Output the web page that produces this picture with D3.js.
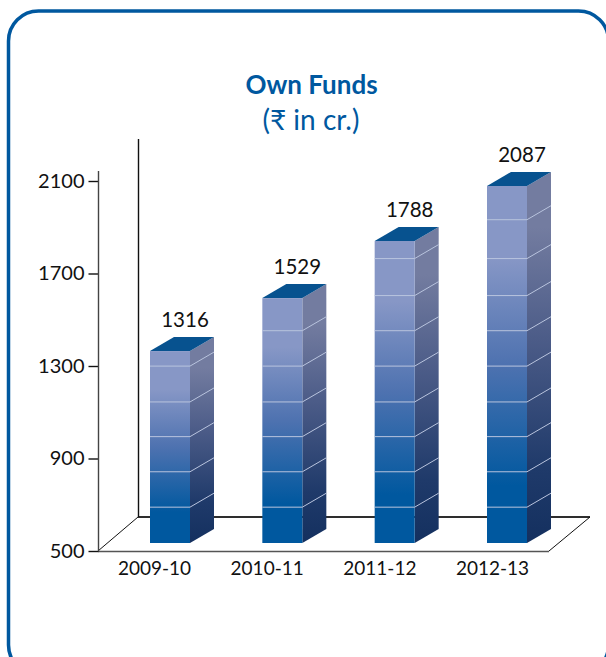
<!DOCTYPE html>
<html>
<head>
<meta charset="utf-8">
<script src="https://cdn.jsdelivr.net/npm/d3@7"></script>
<style>
html,body{margin:0;padding:0;background:#fff;overflow:hidden}
svg{display:block}
text{font-family:Lato,"Noto Sans",sans-serif}
</style>
</head>
<body>
<svg id="c" width="606" height="657"></svg>
<script>
const categories = ["2009-10","2010-11","2011-12","2012-13"];
const valueLabels = [1316,1529,1788,2087];
// Bar heights as read against the left axis (the artwork's 3D bars do not sit exactly at their labels)
const plottedValues = [1330,1559,1806,2044];
const segmentLevels = [655,808,960,1110,1265,1418,1570,1730,1898];
const axisTicks = [500,900,1300,1700,2100];
const titleText = "Own Funds";
const subtitleText = "(₹ in cr.)";

const svg = d3.select("#c");
const blue = "#00589f";

const y = d3.scaleLinear().domain([500,2100]).range([551,181]);
const xBar = d3.scalePoint().domain(categories).range([170,507]);
const xLab = d3.scalePoint().domain(categories).range([154,492]);
const barW = 40, dx = 24, dy = 14, sink = 8;
const yFront = v => y(v) - sink;

const defs = svg.append("defs");
const stops = (id, list) => {
  const g = defs.append("linearGradient").attr("id",id).attr("x1",0).attr("y1",1).attr("x2",0).attr("y2",0);
  list.forEach(s => g.append("stop").attr("offset",s[0]).attr("stop-color",s[1]));
};
stops("front",[[0,"#00589f"],[0.16,"#00589f"],[0.5,"#4e72b0"],[0.8,"#8797c6"],[1,"#8797c6"]]);
stops("side",[[0,"#14305f"],[0.2,"#1f3a6a"],[0.55,"#4c5c88"],[0.85,"#737ca0"],[1,"#737ca0"]]);

// frame
svg.append("rect").attr("x",8.5).attr("y",11).attr("width",600).attr("height",664).attr("rx",30)
  .attr("fill","#fff").attr("stroke",blue).attr("stroke-width",3.5);

// titles
svg.append("text").attr("x",311.5).attr("y",94).attr("text-anchor","middle")
  .attr("font-size",26).attr("font-weight",700).attr("fill",blue).text(titleText);
svg.append("text").attr("x",311).attr("y",130).attr("text-anchor","middle")
  .attr("font-size",28).attr("fill",blue).text(subtitleText);

// floor and back wall
const floor = d3.path();
floor.moveTo(98,y(500)); floor.lineTo(138,517); floor.lineTo(590,517); floor.lineTo(549,y(500));
svg.append("path").attr("d",floor.toString()).attr("fill","none").attr("stroke","#111").attr("stroke-width",1);
svg.append("line").attr("x1",138).attr("x2",590).attr("y1",517).attr("y2",517).attr("stroke","#111").attr("stroke-width",1.4);
svg.append("line").attr("x1",138.5).attr("x2",138.5).attr("y1",139).attr("y2",517).attr("stroke","#111").attr("stroke-width",1.4);
svg.append("line").attr("x1",98).attr("x2",549).attr("y1",y(500)+.5).attr("y2",y(500)+.5).attr("stroke","#555").attr("stroke-width",1.4);

// y axis
const ax = svg.append("g").attr("transform","translate(98.5,0)")
  .call(d3.axisLeft(y).tickValues(axisTicks).tickSize(10).tickPadding(4).tickFormat(d3.format("d")));
ax.select(".domain").remove();
ax.selectAll("line").attr("stroke","#111").attr("stroke-width",1.4);
ax.selectAll("text").attr("font-size",20).attr("fill","#111").attr("font-family","Lato");
svg.append("line").attr("x1",98.5).attr("x2",98.5).attr("y1",171).attr("y2",y(500)).attr("stroke","#444").attr("stroke-width",1.4);

// x axis labels
const bx = svg.append("g").attr("transform","translate(0,558)")
  .call(d3.axisBottom(xLab).tickSize(0).tickPadding(3));
bx.select(".domain").remove();
bx.selectAll("text").attr("font-size",19).attr("fill","#111").attr("font-family","Lato");

// bars
const rows = categories.map((c,i)=>({c,plot:plottedValues[i],label:valueLabels[i]}));
const poly = pts => pts.map(p=>p.join(",")).join(" ");
const bar = svg.append("g").selectAll("g").data(rows).join("g");
bar.each(function(d){
  const g = d3.select(this);
  const l = xBar(d.c)-barW/2, r = l+barW, t = yFront(d.plot), b = yFront(500);
  g.append("polygon").attr("points",poly([[r,b],[r+dx,b-dy],[r+dx,t-dy],[r,t]])).attr("fill","url(#side)");
  g.append("rect").attr("x",l).attr("y",t).attr("width",barW).attr("height",b-t).attr("fill","url(#front)");
  g.append("polygon").attr("points",poly([[l,t],[r,t],[r+dx,t-dy],[l+dx,t-dy]])).attr("fill","#07528f");
  segmentLevels.filter(v=>yFront(v)>t+4).forEach(v=>{
    const yy = yFront(v);
    g.append("polyline").attr("points",poly([[l,yy],[r,yy],[r+dx,yy-dy]]))
      .attr("fill","none").attr("stroke","#b9c4de").attr("stroke-width",1);
  });
  g.append("text").attr("x",xBar(d.c)+15).attr("y",t-24).attr("text-anchor","middle")
    .attr("font-size",20.5).attr("fill","#111").text(d.label);
});
</script>
</body>
</html>
